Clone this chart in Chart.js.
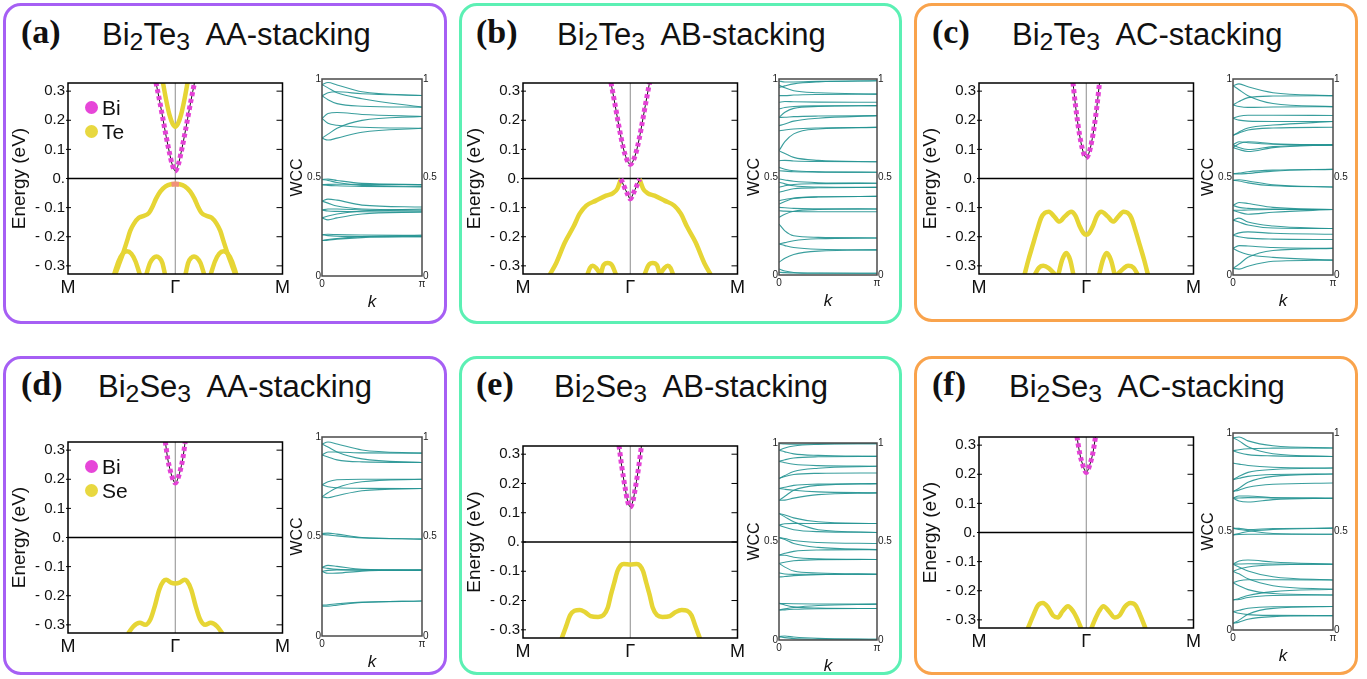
<!DOCTYPE html>
<html>
<head>
<meta charset="utf-8">
<script src="https://cdn.jsdelivr.net/npm/chart.js@4.4.1/dist/chart.umd.min.js"></script>
<style>
  body { margin:0; background:#fff; width:1367px; height:679px; position:relative; overflow:hidden;
         font-family:"Liberation Sans", Arial, sans-serif; color:#111; }
  .painel { position:absolute; box-sizing:border-box; border:3px solid; border-radius:18px; }
  .rotulo { position:absolute; font-family:"Liberation Serif","Times New Roman",serif; font-weight:bold;
            font-size:34px; line-height:1; }
  .titulo { position:absolute; font-size:31px; line-height:1; white-space:pre; }
  .titulo span { font-size:0.8em; position:relative; top:0.22em; }
  .bola { position:absolute; width:13px; height:13px; border-radius:50%; }
  .leg { position:absolute; font-size:21px; line-height:1; }
  canvas { position:absolute; }
</style>
</head>
<body>

<!-- molduras arredondadas -->
<div class="painel" style="left:3px;top:3px;width:444px;height:321px;border-color:#a65ff4"></div>
<div class="painel" style="left:459px;top:3px;width:443px;height:321px;border-color:#5cf0b4"></div>
<div class="painel" style="left:914px;top:3px;width:444px;height:319px;border-color:#f9a34c"></div>
<div class="painel" style="left:3px;top:356px;width:444px;height:319px;border-color:#a65ff4"></div>
<div class="painel" style="left:459px;top:356px;width:443px;height:319px;border-color:#5cf0b4"></div>
<div class="painel" style="left:914px;top:356px;width:444px;height:319px;border-color:#f9a34c"></div>

<!-- títulos -->
<div class="rotulo" style="left:21px;top:15px">(a)</div>
<div class="titulo" style="left:102px;top:19px">Bi<span>2</span>Te<span>3</span>  AA-stacking</div>
<div class="rotulo" style="left:476px;top:15px">(b)</div>
<div class="titulo" style="left:557px;top:19px">Bi<span>2</span>Te<span>3</span>  AB-stacking</div>
<div class="rotulo" style="left:932px;top:15px">(c)</div>
<div class="titulo" style="left:1012px;top:19px">Bi<span>2</span>Te<span>3</span>  AC-stacking</div>
<div class="rotulo" style="left:21px;top:367px">(d)</div>
<div class="titulo" style="left:98px;top:371px">Bi<span>2</span>Se<span>3</span>  AA-stacking</div>
<div class="rotulo" style="left:476px;top:367px">(e)</div>
<div class="titulo" style="left:554px;top:371px">Bi<span>2</span>Se<span>3</span>  AB-stacking</div>
<div class="rotulo" style="left:932px;top:367px">(f)</div>
<div class="titulo" style="left:1009px;top:371px">Bi<span>2</span>Se<span>3</span>  AC-stacking</div>

<!-- gráficos -->
<canvas id="banda-a"></canvas><canvas id="wcc-a"></canvas>
<canvas id="banda-b"></canvas><canvas id="wcc-b"></canvas>
<canvas id="banda-c"></canvas><canvas id="wcc-c"></canvas>
<canvas id="banda-d"></canvas><canvas id="wcc-d"></canvas>
<canvas id="banda-e"></canvas><canvas id="wcc-e"></canvas>
<canvas id="banda-f"></canvas><canvas id="wcc-f"></canvas>

<!-- legendas (a) e (d) -->
<div class="bola" style="left:85px;top:101px;background:#e646d8"></div>
<div class="leg" style="left:102px;top:97px">Bi</div>
<div class="bola" style="left:85px;top:125px;background:#e8d840"></div>
<div class="leg" style="left:102px;top:121px">Te</div>
<div class="bola" style="left:85px;top:460px;background:#e646d8"></div>
<div class="leg" style="left:102px;top:456px">Bi</div>
<div class="bola" style="left:85px;top:484px;background:#e8d840"></div>
<div class="leg" style="left:102px;top:480px">Se</div>

<script>
// ── Eixos e rótulos ──
const K_TICKS  = [-1, 0, 1];
const K_LABELS = ["M", "Γ", "M"];
const E_TICKS  = [0.3, 0.2, 0.1, 0, -0.1, -0.2, -0.3];
const E_LABELS = ["0.3", "0.2", "0.1", "0.", "- 0.1", "- 0.2", "- 0.3"];
const W_TICKS  = [0, 0.5, 1];
const W_LABELS = ["0", "0.5", "1"];
const KW_TICKS  = [0, 1];
const KW_LABELS = ["0", "π"];

// ── Bandas: pares [k, E(eV)], M = ±1, Γ = 0 ──
// (a) Bi2Te3 AA
const A_CB1 = [[-0.18,0.33],[-0.145,0.265],[-0.115,0.205],[-0.085,0.145],[-0.055,0.09],[-0.03,0.05],[0,0.026],[0.03,0.05],[0.055,0.09],[0.085,0.145],[0.115,0.205],[0.145,0.265],[0.18,0.33]];
const A_CB2 = [[-0.115,0.33],[-0.085,0.27],[-0.055,0.22],[-0.025,0.188],[0,0.178],[0.025,0.188],[0.055,0.22],[0.085,0.27],[0.115,0.33]];
const A_VB  = [[-0.56,-0.33],[-0.53,-0.30],[-0.49,-0.26],[-0.45,-0.215],[-0.42,-0.18],[-0.385,-0.155],[-0.34,-0.135],[-0.29,-0.128],[-0.245,-0.118],[-0.21,-0.095],[-0.18,-0.07],[-0.14,-0.045],[-0.09,-0.027],[-0.04,-0.02],[0,-0.019],[0.04,-0.02],[0.09,-0.027],[0.14,-0.045],[0.18,-0.07],[0.21,-0.095],[0.245,-0.118],[0.29,-0.128],[0.34,-0.135],[0.385,-0.155],[0.42,-0.18],[0.45,-0.215],[0.49,-0.26],[0.53,-0.30],[0.56,-0.33]];
const A_VB_TOPO = [[-0.035,-0.02],[0,-0.019],[0.035,-0.02]];
const A_AR1 = [[-0.57,-0.33],[-0.53,-0.285],[-0.49,-0.258],[-0.45,-0.25],[-0.41,-0.258],[-0.37,-0.285],[-0.33,-0.33]];
const A_AR2 = [[-0.27,-0.33],[-0.235,-0.29],[-0.2,-0.272],[-0.175,-0.268],[-0.15,-0.272],[-0.12,-0.29],[-0.095,-0.33]];
const A_AR3 = [[0.095,-0.33],[0.12,-0.29],[0.15,-0.272],[0.175,-0.268],[0.2,-0.272],[0.235,-0.29],[0.27,-0.33]];
const A_AR4 = [[0.33,-0.33],[0.37,-0.285],[0.41,-0.258],[0.45,-0.25],[0.49,-0.258],[0.53,-0.285],[0.57,-0.33]];

// (b) Bi2Te3 AB
const B_CB = [[-0.18,0.33],[-0.14,0.25],[-0.1,0.168],[-0.065,0.105],[-0.035,0.068],[0,0.048],[0.035,0.068],[0.065,0.105],[0.1,0.168],[0.14,0.25],[0.18,0.33]];
const B_VB_ESQ = [[-0.75,-0.33],[-0.69,-0.29],[-0.61,-0.22],[-0.53,-0.166],[-0.47,-0.12],[-0.41,-0.093],[-0.32,-0.076],[-0.226,-0.059],[-0.16,-0.05],[-0.12,-0.035],[-0.087,-0.002]];
const B_VB_MEIO = [[-0.087,-0.002],[-0.06,-0.025],[-0.03,-0.05],[0,-0.07],[0.03,-0.05],[0.06,-0.025],[0.087,-0.002]];
const B_VB_DIR = [[0.087,-0.002],[0.12,-0.035],[0.16,-0.05],[0.226,-0.059],[0.32,-0.076],[0.41,-0.093],[0.47,-0.12],[0.53,-0.166],[0.61,-0.22],[0.69,-0.29],[0.75,-0.33]];
const B_AR1 = [[-0.40,-0.33],[-0.375,-0.307],[-0.35,-0.30],[-0.32,-0.307],[-0.275,-0.33]];
const B_AR2 = [[-0.275,-0.33],[-0.25,-0.298],[-0.21,-0.29],[-0.17,-0.298],[-0.133,-0.33]];
const B_AR3 = [[0.133,-0.33],[0.17,-0.298],[0.21,-0.29],[0.25,-0.298],[0.275,-0.33]];
const B_AR4 = [[0.275,-0.33],[0.32,-0.307],[0.35,-0.30],[0.375,-0.307],[0.40,-0.33]];

// (c) Bi2Te3 AC
const C_CB = [[-0.124,0.33],[-0.1,0.25],[-0.075,0.18],[-0.05,0.125],[-0.025,0.087],[0,0.072],[0.025,0.087],[0.05,0.125],[0.075,0.18],[0.1,0.25],[0.124,0.33]];
const C_VB = [[-0.575,-0.33],[-0.54,-0.28],[-0.50,-0.23],[-0.46,-0.18],[-0.42,-0.135],[-0.385,-0.118],[-0.348,-0.114],[-0.30,-0.13],[-0.25,-0.148],[-0.20,-0.13],[-0.14,-0.114],[-0.10,-0.128],[-0.06,-0.165],[-0.025,-0.188],[0,-0.193],[0.025,-0.188],[0.06,-0.165],[0.10,-0.128],[0.14,-0.114],[0.20,-0.13],[0.25,-0.148],[0.30,-0.13],[0.348,-0.114],[0.385,-0.118],[0.42,-0.135],[0.46,-0.18],[0.50,-0.23],[0.54,-0.28],[0.575,-0.33]];
const C_AR1 = [[-0.48,-0.33],[-0.44,-0.306],[-0.40,-0.300],[-0.35,-0.308],[-0.29,-0.33]];
const C_AR2 = [[-0.26,-0.33],[-0.225,-0.28],[-0.186,-0.256],[-0.15,-0.28],[-0.12,-0.33]];
const C_AR3 = [[0.12,-0.33],[0.155,-0.28],[0.19,-0.256],[0.23,-0.28],[0.265,-0.33]];
const C_AR4 = [[0.29,-0.33],[0.35,-0.308],[0.39,-0.300],[0.44,-0.306],[0.48,-0.33]];

// (d) Bi2Se3 AA
const D_CB = [[-0.093,0.33],[-0.07,0.27],[-0.045,0.228],[-0.02,0.198],[0,0.187],[0.02,0.198],[0.045,0.228],[0.07,0.27],[0.093,0.33]];
const D_VB = [[-0.44,-0.33],[-0.39,-0.305],[-0.33,-0.293],[-0.28,-0.30],[-0.23,-0.28],[-0.19,-0.235],[-0.15,-0.18],[-0.11,-0.15],[-0.084,-0.145],[-0.04,-0.155],[0,-0.158],[0.04,-0.155],[0.087,-0.145],[0.11,-0.15],[0.15,-0.18],[0.19,-0.235],[0.23,-0.28],[0.28,-0.30],[0.33,-0.293],[0.39,-0.305],[0.44,-0.33]];

// (e) Bi2Se3 AB
const E_CB = [[-0.105,0.33],[-0.08,0.26],[-0.05,0.19],[-0.025,0.14],[0,0.12],[0.025,0.14],[0.05,0.19],[0.08,0.26],[0.105,0.33]];
const E_VB = [[-0.64,-0.33],[-0.60,-0.29],[-0.56,-0.25],[-0.52,-0.235],[-0.47,-0.232],[-0.42,-0.24],[-0.37,-0.253],[-0.30,-0.256],[-0.25,-0.25],[-0.21,-0.225],[-0.18,-0.18],[-0.15,-0.14],[-0.12,-0.10],[-0.09,-0.08],[-0.06,-0.075],[0,-0.077],[0.06,-0.075],[0.09,-0.08],[0.12,-0.10],[0.15,-0.14],[0.18,-0.18],[0.21,-0.225],[0.25,-0.25],[0.30,-0.256],[0.37,-0.253],[0.42,-0.24],[0.48,-0.232],[0.53,-0.235],[0.57,-0.25],[0.61,-0.29],[0.65,-0.33]];

// (f) Bi2Se3 AC
const F_CB = [[-0.087,0.33],[-0.06,0.27],[-0.035,0.235],[-0.015,0.214],[0,0.206],[0.015,0.214],[0.035,0.235],[0.06,0.27],[0.087,0.33]];
const F_VB_ESQ = [[-0.545,-0.33],[-0.50,-0.29],[-0.45,-0.25],[-0.404,-0.242],[-0.36,-0.255],[-0.31,-0.285],[-0.264,-0.292],[-0.22,-0.27],[-0.171,-0.253],[-0.12,-0.272],[-0.08,-0.30],[-0.047,-0.33]];
const F_VB_DIR = [[0.047,-0.33],[0.08,-0.30],[0.12,-0.27],[0.16,-0.253],[0.21,-0.27],[0.264,-0.292],[0.31,-0.285],[0.36,-0.255],[0.41,-0.242],[0.46,-0.25],[0.51,-0.29],[0.553,-0.33]];

// ── WCC: valores em k/π = WCC_K ──
const WCC_K = [0, 0.06, 0.15, 0.4, 1];
const WCC_A = [
  [0.972,0.982,0.97,0.935,0.916],[0.972,0.955,0.93,0.90,0.857],[0.915,0.93,0.935,0.925,0.916],[0.915,0.895,0.875,0.862,0.857],
  [0.80,0.825,0.83,0.82,0.81],[0.80,0.775,0.765,0.755,0.75],[0.70,0.72,0.75,0.79,0.81],[0.70,0.69,0.70,0.73,0.75],
  [0.49,0.492,0.485,0.47,0.464],[0.49,0.485,0.475,0.46,0.455],[0.463,0.46,0.458,0.455,0.452],[0.463,0.465,0.466,0.465,0.464],
  [0.38,0.39,0.385,0.36,0.35],[0.38,0.37,0.355,0.34,0.335],[0.335,0.34,0.34,0.335,0.33],[0.335,0.33,0.328,0.326,0.325],
  [0.295,0.285,0.295,0.315,0.325],[0.295,0.305,0.315,0.33,0.34],
  [0.21,0.212,0.21,0.208,0.207],[0.21,0.205,0.202,0.2,0.2],[0.18,0.182,0.187,0.195,0.2],[0.18,0.185,0.19,0.2,0.207]
];
const WCC_B = [
  [0.99,0.985,0.985,0.988,0.991],[0.97,0.955,0.94,0.93,0.923],[0.957,0.965,0.975,0.985,0.991],[0.915,0.915,0.918,0.921,0.923],
  [0.881,0.885,0.884,0.882,0.881],[0.847,0.855,0.86,0.863,0.864],[0.804,0.83,0.85,0.86,0.864],[0.804,0.805,0.808,0.811,0.813],
  [0.762,0.77,0.785,0.80,0.813],[0.736,0.74,0.745,0.75,0.753],[0.634,0.68,0.72,0.745,0.753],[0.634,0.62,0.60,0.585,0.578],
  [0.583,0.585,0.582,0.579,0.578],[0.549,0.54,0.532,0.527,0.524],[0.532,0.53,0.527,0.525,0.524],[0.49,0.485,0.478,0.471,0.468],
  [0.473,0.465,0.455,0.449,0.447],[0.447,0.455,0.462,0.466,0.468],[0.422,0.43,0.44,0.445,0.447],[0.379,0.385,0.393,0.399,0.401],
  [0.362,0.375,0.39,0.398,0.401],[0.345,0.343,0.34,0.338,0.337],[0.328,0.326,0.324,0.323,0.323],[0.294,0.31,0.325,0.334,0.337],
  [0.26,0.225,0.2,0.192,0.189],[0.158,0.165,0.175,0.185,0.189],[0.158,0.15,0.14,0.131,0.128],[0.065,0.085,0.105,0.122,0.128],
  [0.031,0.02,0.013,0.01,0.009],[0.014,0.012,0.01,0.009,0.009]
];
const WCC_C = [
  [0.966,0.975,0.96,0.93,0.915],[0.966,0.945,0.915,0.875,0.859],[0.868,0.885,0.905,0.913,0.915],[0.868,0.86,0.855,0.857,0.859],
  [0.80,0.81,0.815,0.815,0.814],[0.80,0.79,0.785,0.783,0.783],[0.712,0.73,0.75,0.765,0.783],[0.712,0.725,0.74,0.75,0.754],
  [0.665,0.68,0.675,0.667,0.664],[0.665,0.65,0.64,0.655,0.664],[0.65,0.64,0.63,0.65,0.664],[0.65,0.67,0.68,0.67,0.664],
  [0.517,0.52,0.527,0.535,0.539],[0.517,0.515,0.518,0.53,0.539],[0.483,0.48,0.47,0.455,0.449],[0.483,0.486,0.48,0.46,0.449],
  [0.355,0.37,0.365,0.345,0.334],[0.355,0.345,0.34,0.336,0.334],[0.33,0.33,0.332,0.334,0.334],[0.33,0.32,0.31,0.32,0.334],
  [0.28,0.29,0.27,0.25,0.237],[0.28,0.27,0.255,0.24,0.237],[0.203,0.215,0.22,0.213,0.208],[0.203,0.195,0.188,0.183,0.181],
  [0.136,0.15,0.148,0.14,0.136],[0.136,0.12,0.105,0.09,0.076],[0.034,0.055,0.09,0.125,0.136],[0.034,0.03,0.045,0.07,0.076]
];
const WCC_D = [
  [0.965,0.975,0.965,0.935,0.919],[0.965,0.95,0.925,0.89,0.872],[0.91,0.925,0.925,0.92,0.919],[0.91,0.9,0.885,0.875,0.872],
  [0.76,0.775,0.785,0.788,0.788],[0.76,0.75,0.745,0.742,0.741],[0.70,0.72,0.745,0.775,0.788],[0.70,0.695,0.705,0.73,0.741],
  [0.515,0.517,0.512,0.495,0.487],[0.51,0.508,0.503,0.493,0.487],
  [0.345,0.355,0.35,0.335,0.331],[0.345,0.34,0.335,0.332,0.331],[0.325,0.315,0.316,0.326,0.331],[0.325,0.33,0.332,0.331,0.331],
  [0.155,0.157,0.162,0.17,0.176],[0.15,0.15,0.155,0.168,0.176]
];
const WCC_E = [
  [0.997,0.995,0.994,0.996,0.997],[0.963,0.975,0.985,0.993,0.997],[0.963,0.955,0.945,0.937,0.932],[0.907,0.915,0.924,0.93,0.932],
  [0.907,0.9,0.892,0.885,0.882],[0.82,0.83,0.84,0.846,0.848],[0.82,0.835,0.855,0.872,0.882],[0.769,0.765,0.76,0.752,0.747],
  [0.769,0.775,0.785,0.791,0.794],[0.709,0.73,0.76,0.785,0.794],[0.709,0.71,0.72,0.738,0.747],[0.642,0.635,0.62,0.60,0.591],
  [0.642,0.625,0.6,0.56,0.546],[0.583,0.59,0.592,0.591,0.591],[0.583,0.572,0.56,0.55,0.546],[0.52,0.515,0.505,0.495,0.49],
  [0.52,0.51,0.49,0.47,0.459],[0.431,0.44,0.45,0.457,0.459],[0.431,0.43,0.42,0.412,0.409],[0.389,0.395,0.402,0.408,0.409],
  [0.389,0.37,0.35,0.34,0.334],[0.341,0.335,0.333,0.334,0.334],[0.32,0.322,0.327,0.332,0.334],[0.186,0.185,0.184,0.183,0.182],
  [0.186,0.178,0.168,0.162,0.16],[0.152,0.158,0.165,0.175,0.182],[0.152,0.153,0.156,0.159,0.16],[0.017,0.012,0.007,0.004,0.003],
  [0.017,0.02,0.015,0.008,0.003]
];
const WCC_F = [
  [0.975,0.98,0.96,0.935,0.924],[0.975,0.96,0.93,0.895,0.881],[0.91,0.915,0.92,0.923,0.924],[0.91,0.9,0.89,0.884,0.881],
  [0.847,0.842,0.835,0.826,0.822],[0.763,0.78,0.8,0.815,0.822],[0.763,0.77,0.78,0.789,0.792],[0.703,0.72,0.75,0.78,0.792],
  [0.703,0.71,0.725,0.74,0.746],[0.669,0.68,0.68,0.672,0.669],[0.669,0.655,0.65,0.662,0.669],[0.669,0.67,0.672,0.67,0.669],
  [0.517,0.516,0.51,0.515,0.517],[0.517,0.51,0.505,0.49,0.486],[0.483,0.49,0.5,0.51,0.517],[0.483,0.485,0.486,0.486,0.486],
  [0.334,0.35,0.355,0.345,0.334],[0.334,0.335,0.336,0.335,0.334],[0.334,0.32,0.3,0.27,0.254],[0.297,0.31,0.32,0.33,0.334],
  [0.297,0.285,0.26,0.225,0.207],[0.24,0.25,0.255,0.255,0.254],[0.24,0.225,0.205,0.185,0.178],[0.153,0.16,0.175,0.195,0.207],
  [0.153,0.155,0.165,0.175,0.178],[0.093,0.1,0.11,0.118,0.119],[0.093,0.085,0.078,0.074,0.073],[0.034,0.05,0.08,0.11,0.119],
  [0.034,0.04,0.055,0.068,0.073]
];

// ── Cores ──
const COR_BI  = "#e442d6";
const COR_TE  = "#e6d535";
const COR_MIX = "#f0917a";
const COR_WCC = "rgba(36,148,146,0.9)";
const FONTE   = '"Liberation Sans", Arial, sans-serif';

// ── Plugin: moldura, nível de Fermi, linha em Γ e marcas internas ──
const pluginMoldura = {
  id: "moldura",
  defaults: { cor: "#000", largura: 1.5, guias: false },
  beforeDatasetsDraw(chart, args, opts) {
    if (!opts.guias) return;
    const { ctx, chartArea: a, scales } = chart;
    ctx.save();
    const xg = scales.x.getPixelForValue(0);
    ctx.strokeStyle = "#8c8c8c"; ctx.lineWidth = 1;
    ctx.beginPath(); ctx.moveTo(xg, a.top); ctx.lineTo(xg, a.bottom); ctx.stroke();
    const y0 = scales.y.getPixelForValue(0);
    ctx.strokeStyle = "#000"; ctx.lineWidth = 1.3;
    ctx.beginPath(); ctx.moveTo(a.left, y0); ctx.lineTo(a.right, y0); ctx.stroke();
    ctx.restore();
  },
  afterDraw(chart, args, opts) {
    const { ctx, chartArea: a, scales } = chart;
    ctx.save();
    ctx.strokeStyle = opts.cor; ctx.lineWidth = opts.largura;
    ctx.strokeRect(a.left, a.top, a.right - a.left, a.bottom - a.top);
    if (opts.guias) {
      ctx.lineWidth = 1;
      scales.y.ticks.forEach(t => {
        const y = scales.y.getPixelForValue(t.value);
        ctx.beginPath();
        ctx.moveTo(a.left - 2, y); ctx.lineTo(a.left + 3, y);
        ctx.moveTo(a.right - 6, y); ctx.lineTo(a.right, y);
        ctx.stroke();
      });
    }
    ctx.restore();
  }
};
Chart.register(pluginMoldura);

function pontos(pts) {
  return pts.map(p => ({ x: p[0], y: p[1] }));
}

// ================================================================
// Estrutura de bandas
// ================================================================
function graficoBanda(id, area, bandas) {
  const [x0, y0, x1, y1] = area;
  const cv = document.getElementById(id);
  cv.width = (x1 - x0) + 70;
  cv.height = (y1 - y0) + 36;
  cv.style.left = (x0 - 60) + "px";
  cv.style.top = (y0 - 10) + "px";

  const datasets = [];
  bandas.forEach(b => {
    if (b.tipo === "bi") {
      datasets.push({ data: pontos(b.pts), borderColor: "#111", borderWidth: 1, order: 1 });
      datasets.push({ data: pontos(b.pts), borderColor: COR_BI, borderWidth: 5, borderDash: [4, 3], order: 0 });
    } else if (b.tipo === "mix") {
      datasets.push({ data: pontos(b.pts), borderColor: COR_MIX, borderWidth: 5, order: 0 });
    } else {
      datasets.push({ data: pontos(b.pts), borderColor: COR_TE, borderWidth: 4.5, order: 2 });
    }
  });

  new Chart(cv, {
    type: "line",
    data: { datasets },
    options: {
      responsive: false,
      animation: false,
      layout: { padding: { top: 10, right: 10, left: 0, bottom: 0 } },
      elements: { point: { radius: 0 }, line: { cubicInterpolationMode: "monotone" } },
      plugins: { legend: { display: false }, tooltip: { enabled: false },
                 moldura: { cor: "#000", largura: 1.5, guias: true } },
      scales: {
        x: {
          type: "linear", min: -1, max: 1,
          afterBuildTicks: s => { s.ticks = K_TICKS.map(v => ({ value: v })); },
          ticks: { callback: (v, i) => K_LABELS[i], font: { size: 18, family: FONTE }, color: "#111",
                   padding: 3, maxRotation: 0, autoSkip: false },
          grid: { display: false, drawTicks: false },
          border: { display: false },
          afterFit: s => { s.height = 26; }
        },
        y: {
          type: "linear", min: -0.328, max: 0.328,
          afterBuildTicks: s => { s.ticks = E_TICKS.map(v => ({ value: v })); },
          ticks: { callback: (v, i) => E_LABELS[i], font: { size: 15, family: FONTE }, color: "#111",
                   padding: 3, autoSkip: false },
          grid: { display: false, drawTicks: false },
          border: { display: false },
          title: { display: true, text: "Energy (eV)", font: { size: 19, family: FONTE }, color: "#111", padding: 0 },
          afterFit: s => { s.width = 60; }
        }
      }
    }
  });
}

// ================================================================
// Centros de Wannier (WCC)
// ================================================================
function graficoWcc(id, area, curvas) {
  const [x0, y0, x1, y1] = area;
  const cv = document.getElementById(id);
  cv.width = (x1 - x0) + 56;
  cv.height = (y1 - y0) + 44;
  cv.style.left = (x0 - 34) + "px";
  cv.style.top = (y0 - 8) + "px";

  const datasets = curvas.map(c => ({
    data: WCC_K.map((k, i) => ({ x: k, y: c[i] })),
    borderColor: COR_WCC, borderWidth: 1.1
  }));

  const eixoW = (pos, largura, titulo) => ({
    type: "linear", position: pos, min: 0, max: 1,
    afterBuildTicks: s => { s.ticks = W_TICKS.map(v => ({ value: v })); },
    ticks: { callback: (v, i) => W_LABELS[i], font: { size: 10, family: FONTE }, color: "#222", padding: 1 },
    grid: { display: false, drawTicks: false },
    border: { display: false },
    title: titulo ? { display: true, text: titulo, font: { size: 16, family: FONTE }, color: "#111", padding: 0 } : { display: false },
    afterFit: s => { s.width = largura; }
  });

  new Chart(cv, {
    type: "line",
    data: { datasets },
    options: {
      responsive: false,
      animation: false,
      layout: { padding: { top: 8, right: 0, left: 0, bottom: 0 } },
      elements: { point: { radius: 0 }, line: { cubicInterpolationMode: "monotone" } },
      plugins: { legend: { display: false }, tooltip: { enabled: false },
                 moldura: { cor: "#4a4a4a", largura: 1.5, guias: false } },
      scales: {
        x: {
          type: "linear", min: 0, max: 1,
          afterBuildTicks: s => { s.ticks = KW_TICKS.map(v => ({ value: v })); },
          ticks: { callback: (v, i) => KW_LABELS[i], font: { size: 10, family: FONTE }, color: "#222",
                   padding: 2, maxRotation: 0, autoSkip: false },
          grid: { display: false, drawTicks: false },
          border: { display: false },
          title: { display: true, text: "k", font: { size: 17, style: "italic", family: FONTE }, color: "#111", padding: 0 },
          afterFit: s => { s.height = 36; }
        },
        y: eixoW("left", 34, "WCC"),
        y2: eixoW("right", 22, null)
      }
    }
  });
}

// ── Monta os seis painéis ──
graficoBanda("banda-a", [68, 81, 283, 274], [
  { pts: A_AR1, tipo: "te" }, { pts: A_AR2, tipo: "te" }, { pts: A_AR3, tipo: "te" }, { pts: A_AR4, tipo: "te" },
  { pts: A_VB, tipo: "te" }, { pts: A_VB_TOPO, tipo: "mix" },
  { pts: A_CB2, tipo: "te" }, { pts: A_CB1, tipo: "bi" }
]);
graficoBanda("banda-b", [523, 81, 738, 274], [
  { pts: B_AR1, tipo: "te" }, { pts: B_AR2, tipo: "te" }, { pts: B_AR3, tipo: "te" }, { pts: B_AR4, tipo: "te" },
  { pts: B_VB_ESQ, tipo: "te" }, { pts: B_VB_DIR, tipo: "te" }, { pts: B_VB_MEIO, tipo: "bi" },
  { pts: B_CB, tipo: "bi" }
]);
graficoBanda("banda-c", [979, 81, 1194, 274], [
  { pts: C_AR1, tipo: "te" }, { pts: C_AR2, tipo: "te" }, { pts: C_AR3, tipo: "te" }, { pts: C_AR4, tipo: "te" },
  { pts: C_VB, tipo: "te" }, { pts: C_CB, tipo: "bi" }
]);
graficoBanda("banda-d", [68, 440, 283, 633], [
  { pts: D_VB, tipo: "te" }, { pts: D_CB, tipo: "bi" }
]);
graficoBanda("banda-e", [523, 444, 738, 638], [
  { pts: E_VB, tipo: "te" }, { pts: E_CB, tipo: "bi" }
]);
graficoBanda("banda-f", [979, 435, 1194, 628], [
  { pts: F_VB_ESQ, tipo: "te" }, { pts: F_VB_DIR, tipo: "te" }, { pts: F_CB, tipo: "bi" }
]);

graficoWcc("wcc-a", [322, 79, 422, 276], WCC_A);
graficoWcc("wcc-b", [779, 79, 877, 275], WCC_B);
graficoWcc("wcc-c", [1233, 79, 1333, 275], WCC_C);
graficoWcc("wcc-d", [322, 437, 422, 636], WCC_D);
graficoWcc("wcc-e", [779, 443, 877, 640], WCC_E);
graficoWcc("wcc-f", [1233, 433, 1333, 630], WCC_F);
</script>
</body>
</html>
